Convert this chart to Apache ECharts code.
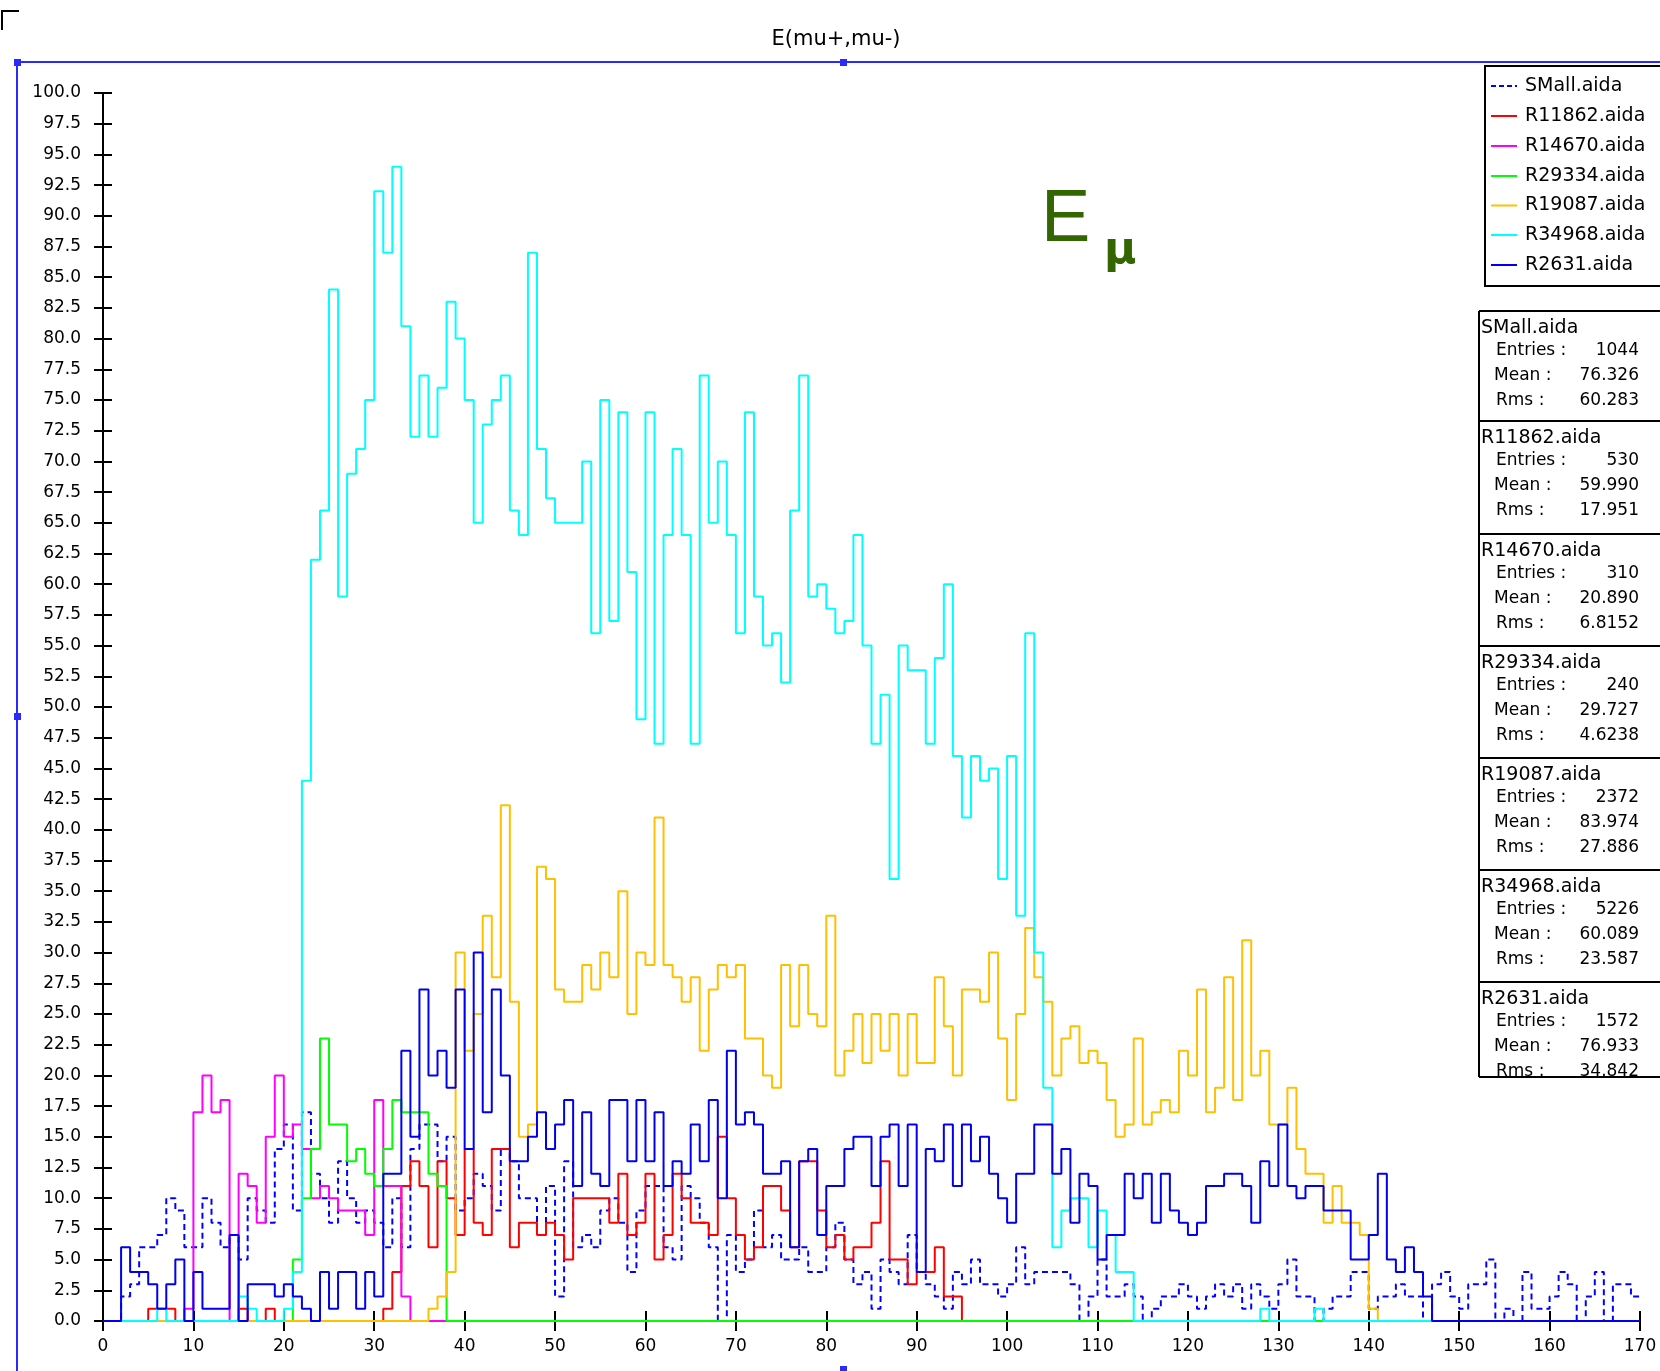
<!DOCTYPE html>
<html>
<head>
<meta charset="utf-8">
<script src="https://cdn.jsdelivr.net/npm/echarts@6/dist/echarts.min.js"></script>
<style>
html,body{margin:0;padding:0;background:#fff;}
#c{width:1660px;height:1371px;}
</style>
</head>
<body>
<div id="c"></div>
<script>
// ---- DATA (bin k covers [k, k+1)) ----
const X_TICKS = [0,10,20,30,40,50,60,70,80,90,100,110,120,130,140,150,160,170];
const SERIES_NAMES = ['SMall.aida','R11862.aida','R14670.aida','R29334.aida','R19087.aida','R34968.aida','R2631.aida'];

const SMALL = [0,0,2,3,6,6,7,10,9,6, 6,10,8,6,7,5,10,9,8,14, 16,9,17,12,10,8,13,10,8,9, 8,6,10,6,14,16,16,13,15,9,
 10,12,11,9,14,13,10,10,7,11, 2,13,6,7,6,9,10,8,4,9, 11,11,6,5,11,10,8,6,0,7, 4,5,9,6,7,5,5,6,4,4,
 6,8,5,3,4,1,5,4,3,7, 4,3,2,1,4,3,5,3,3,2, 3,6,3,4,4,4,4,3,0,2, 5,2,2,3,2,0,1,2,2,3,
 2,1,2,3,2,3,1,3,2,1, 3,5,2,2,0,1,2,2,4,4, 1,2,2,3,2,2,0,3,4,2, 1,3,3,5,0,1,0,4,1,1, 2,4,3,0,2,4,0,3,3,2];

const R11862 = [0,0,0,0,0,1,1,1,0,0, 0,0,0,0,0,1,0,0,1,0, 0,0,0,0,0,0,0,0,0,0, 0,1,4,11,13,11,6,13,10,7,
 14,8,7,14,14,6,8,8,7,8, 7,5,10,10,10,10,8,12,7,8, 12,5,7,12,10,8,8,7,15,10, 7,5,6,11,11,9,6,13,13,9,
 6,7,5,6,6,8,13,5,5,3, 4,4,6,2,2,0,0,0,0,0, 0,0,0,0,0,0,0,0,0,0, 0,0,0,0,0,0,0,0,0,0,
 0,0,0,0,0,0,0,0,0,0, 0,0,0,0,0,0,0,0,0,0, 0,0,0,0,0,0,0,0,0,0, 0,0,0,0,0,0,0,0,0,0, 0,0,0,0,0,0,0,0,0,0];

const R14670 = [0,0,0,0,0,0,0,0,0,1, 17,20,17,18,0,12,11,8,15,20, 15,16,14,10,11,10,9,9,9,7, 18,11,11,2,0,0,0,0,0,0,
 0,0,0,0,0,0,0,0,0,0, 0,0,0,0,0,0,0,0,0,0, 0,0,0,0,0,0,0,0,0,0, 0,0,0,0,0,0,0,0,0,0,
 0,0,0,0,0,0,0,0,0,0, 0,0,0,0,0,0,0,0,0,0, 0,0,0,0,0,0,0,0,0,0, 0,0,0,0,0,0,0,0,0,0,
 0,0,0,0,0,0,0,0,0,0, 0,0,0,0,0,0,0,0,0,0, 0,0,0,0,0,0,0,0,0,0, 0,0,0,0,0,0,0,0,0,0, 0,0,0,0,0,0,0,0,0,0];

const R29334 = [0,0,0,0,0,0,0,0,0,0, 0,0,0,0,0,0,0,0,0,0, 0,5,10,14,23,16,16,13,14,12, 11,14,18,17,17,17,12,11,0,0,
 0,0,0,0,0,0,0,0,0,0, 0,0,0,0,0,0,0,0,0,0, 0,0,0,0,0,0,0,0,0,0, 0,0,0,0,0,0,0,0,0,0,
 0,0,0,0,0,0,0,0,0,0, 0,0,0,0,0,0,0,0,0,0, 0,0,0,0,0,0,0,0,0,0, 0,0,0,0,0,0,0,0,0,0,
 0,0,0,0,0,0,0,0,0,0, 0,0,0,0,0,0,0,0,0,0, 0,0,0,0,0,0,0,0,0,0, 0,0,0,0,0,0,0,0,0,0, 0,0,0,0,0,0,0,0,0,0];

const R19087 = [0,0,0,0,0,0,0,0,0,0, 0,0,0,0,0,0,0,0,0,0, 0,0,0,0,0,0,0,0,0,0, 0,0,0,0,0,0,1,2,4,30,
 22,25,33,28,42,26,15,16,37,36, 27,26,26,29,27,30,28,35,25,30, 29,41,29,28,26,28,22,27,29,28, 29,23,23,20,19,29,24,29,25,24,
 33,20,22,25,21,25,22,25,20,25, 21,21,28,24,20,27,27,26,30,23, 18,25,32,28,26,20,23,24,21,22, 21,18,15,16,23,16,17,18,17,22,
 20,27,17,19,28,18,31,20,22,16, 16,19,14,12,12,8,11,8,8,7, 1,0,0,0,0,0,0,0,0,0, 0,0,0,0,0,0,0,0,0,0, 0,0,0,0,0,0,0,0,0,0];

const R34968 = [0,0,0,0,0,0,1,0,0,0, 0,0,0,0,0,2,1,0,0,0, 1,4,44,62,66,84,59,69,71,75, 92,87,94,81,72,77,72,76,83,80,
 75,65,73,75,77,66,64,87,71,67, 65,65,65,70,56,75,57,74,61,49, 74,47,64,71,64,47,77,65,70,64, 56,74,59,55,56,52,66,77,59,60,
 58,56,57,64,55,47,51,36,55,53, 53,47,54,60,46,41,46,44,45,36, 46,33,56,30,19,6,9,10,10,6, 9,7,4,4,0,0,0,0,0,0,
 0,0,0,0,0,0,0,0,1,0, 0,0,0,0,1,0,0,0,0,0, 0,0,0,0,0,0,0,0,0,0, 0,0,0,0,0,0,0,0,0,0, 0,0,0,0,0,0,0,0,0,0];

const R2631 = [0,0,6,4,4,3,1,3,5,0, 4,1,1,1,7,0,3,3,3,2, 3,2,1,0,4,1,4,4,1,4, 2,12,12,22,15,27,20,22,19,27,
 14,30,17,27,20,13,13,15,17,14, 16,18,11,17,12,11,18,18,13,18, 13,17,11,13,12,16,13,18,10,22, 16,17,16,12,12,13,6,13,14,7,
 11,11,14,15,15,11,15,16,11,16, 4,14,13,16,11,16,13,15,12,10, 8,12,12,16,16,12,14,8,12,11, 5,7,7,12,10,12,8,12,9,8,
 7,8,11,11,12,12,11,8,13,11, 16,11,10,11,11,9,9,9,5,5, 7,12,5,4,6,4,2,0,0,0, 0,0,0,0,0,0,0,0,0,0, 0,0,0,0,0,0,0,0,0,0];

const STATS = [
  ['SMall.aida','1044','76.326','60.283'],
  ['R11862.aida','530','59.990','17.951'],
  ['R14670.aida','310','20.890','6.8152'],
  ['R29334.aida','240','29.727','4.6238'],
  ['R19087.aida','2372','83.974','27.886'],
  ['R34968.aida','5226','60.089','23.587'],
  ['R2631.aida','1572','76.933','34.842']
];

// ---- STYLE ----
const COLORS = ['#0000ff','#ff0000','#ff00ff','#00ff00','#ffc000','#00ffff','#0000ee'];
const DASH = [6,4];
const FONT = '"DejaVu Sans", sans-serif';

function toSteps(bins){
  const pts = bins.map((v,k)=>[k,v]);
  pts.push([bins.length, bins[bins.length-1]]);
  return pts;
}
const allBins = [SMALL,R11862,R14670,R29334,R19087,R34968,R2631];

const series = allBins.map((b,i)=>({
  name: SERIES_NAMES[i],
  type: 'line',
  step: 'end',
  data: toSteps(b),
  symbol: 'none',
  showSymbol: false,
  xAxisIndex: 0, yAxisIndex: 0,
  lineStyle: {color: COLORS[i], width: 2, type: i===0 ? DASH : 'solid'},
  itemStyle: {color: COLORS[i]},
  animation: false,
  z: 3 + i
}));

const chart = echarts.init(document.getElementById('c'), null, {renderer:'canvas'});

const graphics = [];
// blue selection frame
const FB = '#2a2aff';
graphics.push({type:'line', shape:{x1:17,y1:62,x2:1660,y2:62}, style:{stroke:FB, lineWidth:2}, z:50});
graphics.push({type:'line', shape:{x1:17,y1:62,x2:17,y2:1371}, style:{stroke:FB, lineWidth:2}, z:50});
[[17,62],[843,62],[17,716],[843,1369]].forEach(p=>{
  graphics.push({type:'rect', shape:{x:p[0]-3,y:p[1]-3,width:7,height:7}, style:{fill:FB}, z:51});
});
// top-left corner mark
graphics.push({type:'polyline', shape:{points:[[2,30],[2,11],[19,11]]}, style:{stroke:'#000', lineWidth:2, fill:null}, z:50});
// title
graphics.push({type:'text', style:{text:'E(mu+,mu-)', x:836, y:40, textAlign:'center', textVerticalAlign:'middle', font:'21px '+FONT, fill:'#000'}, z:50});
// E mu annotation
graphics.push({type:'text', style:{text:'E', x:1041, y:221, textAlign:'left', textVerticalAlign:'middle', font:'74px "Liberation Sans", sans-serif', fill:'#336600'}, z:50});
graphics.push({type:'text', style:{text:'\u03bc', x:1104, y:252, textAlign:'left', textVerticalAlign:'middle', font:'bold 44px "DejaVu Sans", sans-serif', fill:'#336600'}, z:50});

// legend box (drawn by hand so the line samples carry no symbol)
const LG_L = 1485, LG_T = 66, LG_B = 286, LG_R = 1662;
graphics.push({type:'rect', shape:{x:LG_L,y:LG_T,width:LG_R-LG_L,height:LG_B-LG_T}, style:{fill:'#fff', stroke:'#000', lineWidth:2}, z:60});
const LG_ROWS = [86,116,146,176,205.5,235,265];
SERIES_NAMES.forEach((n,i)=>{
  const y = LG_ROWS[i];
  graphics.push({type:'line', shape:{x1:1491,y1:y,x2:1517,y2:y}, style:{stroke:COLORS[i], lineWidth:2, lineDash: i===0 ? [5,3] : null}, z:61});
  graphics.push({type:'text', style:{text:n, x:1525, y:y, textVerticalAlign:'middle', font:'19px '+FONT, fill:'#000'}, z:61});
});

// stats box
const SEP = [311,421,534,646,758,870,982];
const SB_L = 1479, SB_R = 1662, SB_B = 1077;
graphics.push({type:'rect', shape:{x:SB_L,y:SEP[0],width:SB_R-SB_L,height:SB_B-SEP[0]}, style:{fill:'#fff'}, z:40});
graphics.push({type:'line', shape:{x1:SB_L,y1:SEP[0],x2:SB_L,y2:SB_B}, style:{stroke:'#000', lineWidth:2}, z:60});
SEP.concat([SB_B]).forEach(y=>graphics.push({type:'line', shape:{x1:SB_L,y1:y,x2:SB_R,y2:y}, style:{stroke:'#000', lineWidth:2}, z:60}));
STATS.forEach((s,i)=>{
  const t = SEP[i];
  const f = '17px '+FONT;
  graphics.push({type:'text', style:{text:s[0], x:1481, y:t+17, textVerticalAlign:'middle', font:'19px '+FONT, fill:'#000'}, z:55});
  graphics.push({type:'text', style:{text:'Entries :', x:1496, y:t+40, textVerticalAlign:'middle', font:f, fill:'#000'}, z:55});
  graphics.push({type:'text', style:{text:s[1], x:1639, y:t+40, textAlign:'right', textVerticalAlign:'middle', font:f, fill:'#000'}, z:55});
  graphics.push({type:'text', style:{text:'Mean :', x:1494, y:t+65, textVerticalAlign:'middle', font:f, fill:'#000'}, z:55});
  graphics.push({type:'text', style:{text:s[2], x:1639, y:t+65, textAlign:'right', textVerticalAlign:'middle', font:f, fill:'#000'}, z:55});
  graphics.push({type:'text', style:{text:'Rms :', x:1496, y:t+90, textVerticalAlign:'middle', font:f, fill:'#000'}, z:55});
  graphics.push({type:'text', style:{text:s[3], x:1639, y:t+90, textAlign:'right', textVerticalAlign:'middle', font:f, fill:'#000'}, z:55});
});

const yAxisBase = {type:'value', min:0, max:100, interval:2.5, position:'left'};
const xAxisBase = {type:'value', min:0, max:170, interval:10, position:'bottom'};

chart.setOption({
  backgroundColor:'#ffffff',
  animation:false,
  grid:{left:103, right:20, top:93, bottom:50, containLabel:false},
  xAxis:[
    Object.assign({}, xAxisBase, {
      axisLine:{show:true, onZero:false, lineStyle:{color:'#000', width:2}},
      axisTick:{show:true, inside:false, length:10, lineStyle:{color:'#000', width:2}},
      axisLabel:{show:true, margin:17, fontFamily:'DejaVu Sans', fontSize:17, color:'#000'},
      splitLine:{show:false}
    }),
    Object.assign({}, xAxisBase, {
      axisLine:{show:false},
      axisTick:{show:true, inside:true, length:10, lineStyle:{color:'#000', width:2}},
      axisLabel:{show:false},
      splitLine:{show:false}
    })
  ],
  yAxis:[
    Object.assign({}, yAxisBase, {
      axisLine:{show:true, onZero:false, lineStyle:{color:'#000', width:2}},
      axisTick:{show:true, inside:false, length:9, lineStyle:{color:'#000', width:2}},
      axisLabel:{show:true, margin:22, fontFamily:'DejaVu Sans', fontSize:17, color:'#000', formatter:v=>v.toFixed(1)},
      splitLine:{show:false}
    }),
    Object.assign({}, yAxisBase, {
      axisLine:{show:false},
      axisTick:{show:true, inside:true, length:9, lineStyle:{color:'#000', width:2}},
      axisLabel:{show:false},
      splitLine:{show:false}
    })
  ],
  series: series,
  graphic: graphics
});
</script>
</body>
</html>
